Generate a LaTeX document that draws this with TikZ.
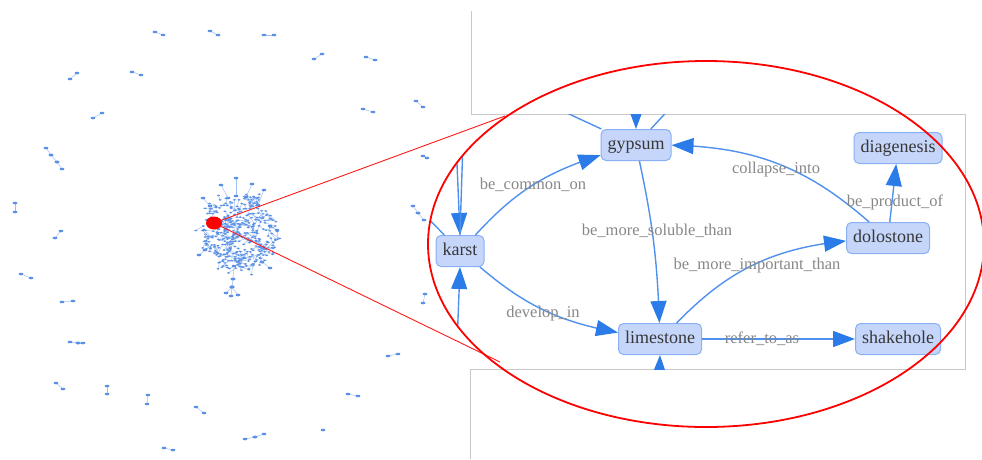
\documentclass[tikz,border=0pt]{standalone}
\usepackage{fontspec}
\setmainfont{Liberation Serif}
\usetikzlibrary{arrows.meta,bending,calc}
\definecolor{nodefill}{RGB}{198,214,251}
\definecolor{nodeline}{RGB}{138,176,244}
\definecolor{edgeblue}{RGB}{43,124,233}
\definecolor{edgeline}{RGB}{80,145,238}
\definecolor{txtdark}{RGB}{55,55,55}
\definecolor{txtgray}{RGB}{135,135,135}
\definecolor{ovline}{RGB}{160,192,242}
\definecolor{ovdot}{RGB}{90,145,230}
\definecolor{panel}{RGB}{200,200,200}
\tikzset{
  concept/.style={draw=nodeline,fill=nodefill,line width=1pt,rounded corners=5pt,
    minimum height=31pt,inner xsep=6.5pt,text height=12.5pt,text depth=4pt,
    text=txtdark,font=\fontsize{18}{20}\selectfont},
  relation/.style={text=txtgray,font=\fontsize{16.5}{18}\selectfont,inner sep=1pt,
    text height=11pt,text depth=3pt},
  link/.style={draw=edgeline,line width=1.4pt,-{Triangle[length=22pt,width=16pt,color=edgeblue]}},
  plainlink/.style={draw=edgeline,line width=1.4pt},
  ovedge/.style={draw=ovline,line width=0.5pt},
  redline/.style={draw=red!90,line width=0.9pt},
}
\newcommand{\ovpair}[4]{\draw[ovedge] (#1,#2) -- (#3,#4);
  \fill[ovdot] (#1,#2) ellipse (2.4 and 1.3) (#3,#4) ellipse (2.4 and 1.3);}
\begin{document}
\begin{tikzpicture}[x=1pt,y=-1pt]
\useasboundingbox (0,0) rectangle (982,459);
%%%%%%%%%%%%%%%% overview graph
\foreach \xa/\ya/\xb/\yb in {155/32/163/35, 210/31/218/35, 264/35/274/35, 314/59/322/54,
  366/57/375/60, 70/79/77/73, 132/72/141/75, 363/109/373/112, 416/101/423/107,
  93/118/102/113, 46/148/51/155, 51/155/57/162, 57/162/62/169, 15/203/15/212,
  55/238/61/231, 21/274/31/278, 62/302/73/301, 70/342/78/343, 78/343/83/343,
  56/383/63/389, 107/386/107/394, 148/395/147/404, 196/407/204/413, 164/448/173/450,
  245/439/255/437, 255/437/264/434, 348/394/358/396, 388/356/398/354,
  413/206/418/213, 418/213/424/220, 425/294/423/303, 423/156/427/158}
  {\ovpair{\xa}{\ya}{\xb}{\yb}}
\fill[ovdot] (323,430) ellipse (2.4 and 1.3);
\coordinate (hub) at (240,232);
\pgfmathsetseed{7}
\foreach \i in {1,...,230}{
  \pgfmathsetmacro\ang{360*rnd}
  \pgfmathsetmacro\rad{38*rnd^0.55}
  \pgfmathsetmacro\dirB{360*rnd}
  \pgfmathsetmacro\len{4+7*rnd}
  \draw[ovedge] ($(hub)+(\ang:\rad)$) coordinate (p) -- ++(\dirB:\len) coordinate (q);
  \fill[ovdot] (p) ellipse (1.7 and 0.9) (q) ellipse (1.7 and 0.9);
}
\foreach \xa/\ya/\xb/\yb in {236/196/236/178, 228/198/221/185, 246/197/252/184,
  258/205/264/190, 210/206/203/198, 234/266/233/279, 233/279/232/287, 232/287/226/293,
  232/287/231/296, 232/287/238/295, 270/226/277/230, 205/250/199/255, 262/262/270/268}
  {\ovpair{\xa}{\ya}{\xb}{\yb}}
%%%%%%%%%%%%%%%% zoom marker
\coordinate (focus) at (214,223);
\coordinate (zoomtop) at (505,116);
\coordinate (zoombot) at (500,362);
\draw[redline] (focus) -- (zoomtop);
\draw[redline] (focus) -- (zoombot);
\fill[red] (focus) ellipse (8 and 6.5);
\draw[panel,line width=0.8pt] (471,11) -- (471,114) -- (965,114) -- (965,369) -- (470,369) -- (470,459);
%%%%%%%%%%%%%%%% zoomed concepts
\node[concept] (gypsum) at (636,145) {gypsum};
\node[concept] (karst) at (460,251) {karst};
\node[concept] (diagenesis) at (898,148) {diagenesis};
\node[concept] (dolostone) at (888,238) {dolostone};
\node[concept] (limestone) at (660,339) {limestone};
\node[concept] (shakehole) at (898,339) {shakehole};
\draw[link] (karst) to[bend left=15] (gypsum);
\draw[link] (gypsum) to[bend left=5] (limestone);
\draw[link] (limestone) to[bend left=20] (dolostone);
\draw[link] (dolostone) to[bend right=20] (gypsum);
\draw[link] (dolostone) -- (diagenesis);
\draw[link] (karst) to[bend right=15] (limestone);
\draw[link] (limestone) -- (shakehole);
% edges leaving the view
\begin{scope}
  \clip (706,244) ellipse (278 and 183);
  \clip (420,114) rectangle (965,369);
  \coordinate (g1) at (556,108);
  \coordinate (g2) at (636,96);
  \coordinate (g3) at (673,105);
  \coordinate (k1) at (456,140);
  \coordinate (k2) at (463,140);
  \coordinate (k3) at (418,208);
  \coordinate (k4) at (457,345);
  \coordinate (l1) at (659,385);
  \draw[plainlink] (g1) -- (gypsum);
  \draw[link] (g2) -- (gypsum);
  \draw[plainlink] (g3) -- (gypsum);
  \draw[link] (k1) -- (karst.north);
  \draw[plainlink] (k2) -- (karst.north);
  \draw[plainlink] (k3) -- (karst);
  \draw[link] (k4) -- (karst.south);
  \draw[link] (l1) -- (limestone.south);
\end{scope}
\node[relation] (lcommon) at (533,185) {be\_common\_on};
\node[relation] (lsoluble) at (657,231) {be\_more\_soluble\_than};
\node[relation] (limportant) at (757,265) {be\_more\_important\_than};
\node[relation] (lcollapse) at (776,169) {collapse\_into};
\node[relation] (lproduct) at (895,202) {be\_product\_of};
\node[relation] (ldevelop) at (543,313) {develop\_in};
\node[relation] (lrefer) at (762,339) {refer\_to\_as};
\draw[red,line width=1.8pt] (706,244) ellipse (278 and 183);
\end{tikzpicture}
\end{document}
